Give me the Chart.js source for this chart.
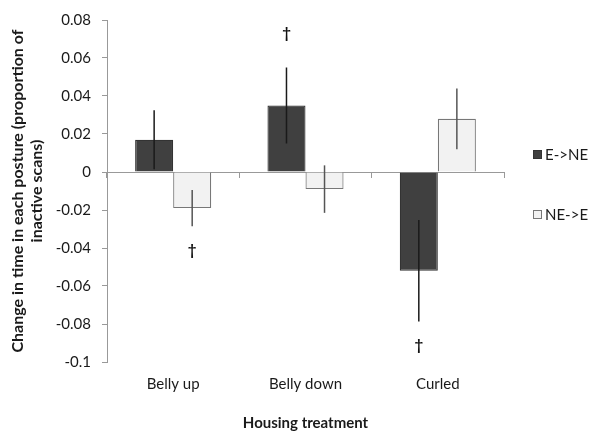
<!DOCTYPE html>
<html>
<head>
<meta charset="utf-8">
<script src="https://cdn.jsdelivr.net/npm/chart.js@4"></script>
<style>
  html, body { margin: 0; padding: 0; background: #ffffff; }
  #wrap { width: 590px; height: 432px; position: relative; }
</style>
</head>
<body>
<div id="wrap"><canvas id="c" width="590" height="432"></canvas></div>
<script>
// Posture categories and mean change (± SE) per housing switch
const categories = ['Belly up', 'Belly down', 'Curled'];
const seriesNames = ['E->NE', 'NE->E'];
const eneMeans  = [0.017, 0.035, -0.052];
const eneErrors = [0.0155, 0.020, 0.0267];
const neeMeans  = [-0.019, -0.009, 0.028];
const neeErrors = [0.0095, 0.0125, 0.016];
// significance markers (dagger) per bar
const eneDagger = [false, true, true];
const neeDagger = [true, false, false];
// y-axis range and tick step
const yMin = -0.1, yMax = 0.08, yStep = 0.02;

const FONT = 'Lato, "Open Sans", sans-serif';
const darkFill = '#404040', lightFill = '#f2f2f2';

// error bars and dagger markers drawn from the bar elements
const errorBarPlugin = {
  id: 'errorBars',
  afterDatasetsDraw(chart) {
    const ctx = chart.ctx;
    const y = chart.scales.y;
    const sets = [
      { errs: eneErrors, daggers: eneDagger, color: '#1a1a1a' },
      { errs: neeErrors, daggers: neeDagger, color: '#555555' }
    ];
    sets.forEach((s, di) => {
      const meta = chart.getDatasetMeta(di);
      const vals = chart.data.datasets[di].data;
      meta.data.forEach((bar, i) => {
        const v = vals[i], e = s.errs[i];
        const yTop = y.getPixelForValue(v + e);
        const yBot = y.getPixelForValue(v - e);
        ctx.save();
        ctx.strokeStyle = s.color;
        ctx.lineWidth = 1.5;
        ctx.beginPath();
        ctx.moveTo(bar.x, yTop);
        ctx.lineTo(bar.x, yBot);
        ctx.stroke();
        if (s.daggers[i]) {
          ctx.fillStyle = '#111';
          ctx.font = 'bold 15px ' + FONT;
          ctx.textAlign = 'center';
          ctx.textBaseline = 'middle';
          const ty = v >= 0 ? yTop - 34 : yBot + 24;
          ctx.fillText('\u2020', bar.x, ty);
        }
        ctx.restore();
      });
    });
  }
};

// legend at the right edge
const sideLegendPlugin = {
  id: 'sideLegend',
  afterDraw(chart) {
    const ctx = chart.ctx;
    const rows = [155, 215];
    chart.data.datasets.forEach((ds, i) => {
      const cy = rows[i];
      ctx.save();
      ctx.fillStyle = ds.backgroundColor;
      ctx.strokeStyle = ds.borderColor;
      ctx.lineWidth = 1;
      ctx.fillRect(533.5, cy - 4.5, 8, 8);
      ctx.strokeRect(533.5, cy - 4.5, 8, 8);
      ctx.fillStyle = '#1a1a1a';
      ctx.font = '15px ' + FONT;
      ctx.textAlign = 'left';
      ctx.textBaseline = 'middle';
      ctx.fillText(ds.label, 545, cy);
      ctx.restore();
    });
  }
};

new Chart(document.getElementById('c'), {
  type: 'bar',
  data: {
    labels: categories,
    datasets: [
      { label: seriesNames[0], data: eneMeans, backgroundColor: darkFill,
        borderColor: '#333333', borderWidth: 1.2, xAxisID: 'x' },
      { label: seriesNames[1], data: neeMeans, backgroundColor: lightFill,
        borderColor: '#777777', borderWidth: 1.2, xAxisID: 'x' }
    ]
  },
  options: {
    responsive: false,
    animation: false,
    layout: { padding: { left: 0, right: 86, top: 17, bottom: 0 } },
    datasets: { bar: { categoryPercentage: 0.575, barPercentage: 1.0 } },
    plugins: { legend: { display: false }, tooltip: { enabled: false } },
    scales: {
      y: {
        min: yMin, max: yMax,
        afterFit(s) { s.width = 107; },
        ticks: {
          stepSize: yStep,
          padding: 11,
          color: '#1a1a1a',
          font: { family: FONT, size: 15 },
          callback: v => String(+v.toFixed(2))
        },
        grid: { drawOnChartArea: false, drawTicks: true, tickLength: 5, color: '#999999' },
        border: { color: '#999999', width: 1 },
        title: {
          display: true,
          text: ['Change in time in each posture (proportion of', 'inactive scans)'],
          color: '#1a1a1a',
          font: { family: FONT, size: 16, weight: 'bold', lineHeight: 1.2 },
          padding: { top: 8, bottom: 0 }
        }
      },
      x: {
        position: 'bottom',
        afterFit(s) { s.height = 70; },
        grid: { display: false },
        border: { display: false },
        ticks: { color: '#1a1a1a', font: { family: FONT, size: 15 }, padding: 5 },
        title: {
          display: true,
          text: 'Housing treatment',
          color: '#1a1a1a',
          font: { family: FONT, size: 15, weight: 'bold' },
          padding: { top: 4, bottom: 0 }
        }
      },
      x2: {
        type: 'category',
        position: { y: 0 },
        grid: { display: true, drawOnChartArea: false, drawTicks: true, tickLength: 5,
                color: '#999999', offset: true },
        border: { color: '#999999', width: 1 },
        ticks: { display: false }
      }
    }
  },
  plugins: [errorBarPlugin, sideLegendPlugin]
});
</script>
</body>
</html>
